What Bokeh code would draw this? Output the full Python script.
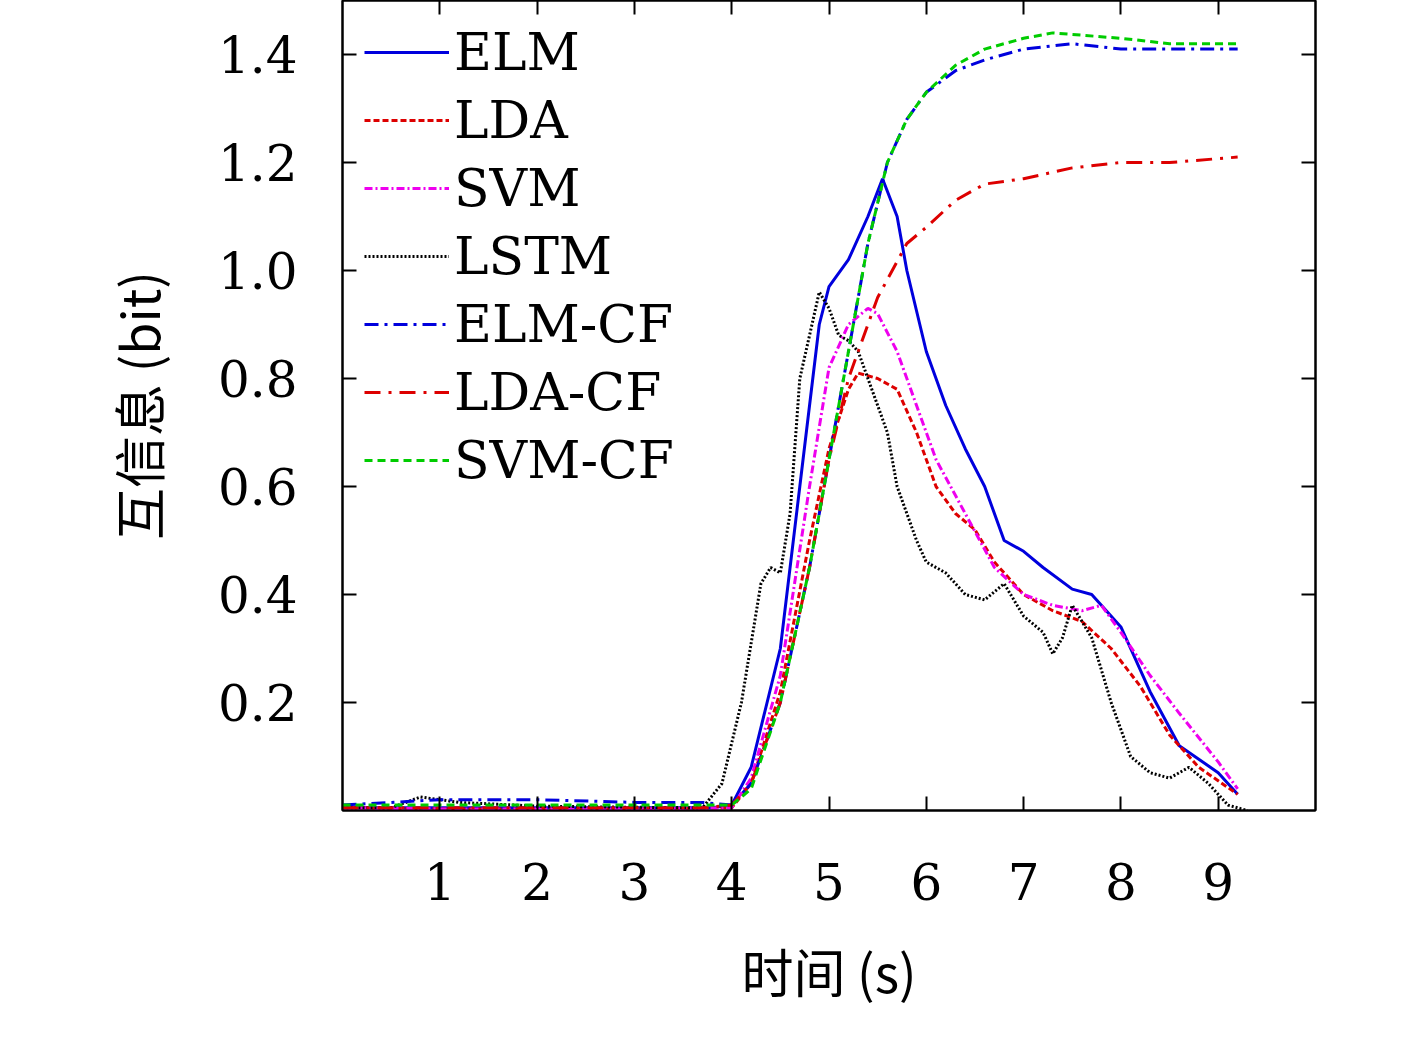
from bokeh.plotting import figure
from bokeh.models import LinearAxis, FixedTicker, Label, Legend, LegendItem, Range1d, PrintfTickFormatter
from bokeh.embed import file_html
from bokeh.resources import INLINE

elm_x = [0,1,2,3,3.8,4.0,4.2,4.5,4.7,4.9,5.0,5.2,5.4,5.55,5.7,5.8,6.0,6.2,6.4,6.6,6.8,7.0,7.2,7.5,7.7,8.0,8.3,8.6,9.0,9.2]
elm_y = [0.005,0.005,0.005,0.005,0.005,0.01,0.08,0.3,0.6,0.9,0.97,1.02,1.1,1.17,1.1,1.0,0.85,0.75,0.67,0.6,0.5,0.48,0.45,0.41,0.4,0.34,0.22,0.12,0.07,0.03]
lda_x = [0,1,2,3,4.0,4.2,4.5,4.8,5.0,5.2,5.3,5.5,5.7,5.9,6.1,6.3,6.5,6.7,7.0,7.3,7.6,7.9,8.2,8.5,8.8,9.2]
lda_y = [0.005,0.003,0.003,0.003,0.005,0.05,0.22,0.5,0.67,0.78,0.81,0.8,0.78,0.7,0.6,0.55,0.52,0.46,0.4,0.37,0.35,0.3,0.23,0.14,0.08,0.03]
svm_x = [0,1,2,3,4.0,4.2,4.5,4.8,5.0,5.2,5.4,5.5,5.7,5.9,6.1,6.4,6.7,7.0,7.3,7.6,7.8,8.0,8.3,8.6,9.0,9.2]
svm_y = [0.005,0.003,0.003,0.003,0.005,0.06,0.25,0.6,0.82,0.9,0.93,0.92,0.85,0.75,0.65,0.55,0.45,0.4,0.38,0.37,0.38,0.33,0.25,0.18,0.09,0.04]
lstm_x = [0,0.5,0.8,1.2,2,3,3.7,3.9,4.1,4.3,4.4,4.5,4.6,4.7,4.9,5.0,5.1,5.2,5.3,5.4,5.6,5.7,5.9,6.0,6.2,6.4,6.6,6.8,7.0,7.2,7.3,7.4,7.5,7.7,7.9,8.1,8.3,8.5,8.7,8.9,9.1,9.3]
lstm_y = [0.005,0.005,0.025,0.015,0.008,0.006,0.005,0.05,0.2,0.42,0.45,0.44,0.55,0.8,0.96,0.93,0.88,0.87,0.85,0.8,0.7,0.6,0.5,0.46,0.44,0.4,0.39,0.42,0.36,0.33,0.29,0.32,0.38,0.32,0.2,0.1,0.07,0.06,0.08,0.05,0.01,0.0]
elmcf_x = [0,1,2,3,3.7,4.0,4.2,4.5,4.8,5.0,5.2,5.4,5.6,5.8,6.0,6.3,6.6,7.0,7.5,8.0,8.5,9.2]
elmcf_y = [0.01,0.02,0.02,0.015,0.015,0.01,0.05,0.2,0.45,0.65,0.85,1.05,1.2,1.28,1.33,1.37,1.39,1.41,1.42,1.41,1.41,1.41]
ldacf_x = [0,1,2,3,3.7,4.0,4.2,4.5,4.8,5.0,5.2,5.3,5.5,5.8,6.0,6.3,6.6,7.0,7.5,8.0,8.5,9.2]
ldacf_y = [0.005,0.005,0.005,0.005,0.005,0.01,0.05,0.2,0.45,0.65,0.8,0.85,0.95,1.05,1.08,1.13,1.16,1.17,1.19,1.2,1.2,1.21]
svmcf_x = [0,1,2,3,3.7,4.0,4.2,4.5,4.8,5.0,5.2,5.4,5.6,5.8,6.0,6.3,6.6,7.0,7.3,8.0,8.5,9.2]
svmcf_y = [0.01,0.01,0.01,0.01,0.01,0.01,0.04,0.2,0.45,0.65,0.85,1.05,1.2,1.28,1.33,1.38,1.41,1.43,1.44,1.43,1.42,1.42]
x_ticks = [1,2,3,4,5,6,7,8,9]
y_ticks = [0.2,0.4,0.6,0.8,1.0,1.2,1.4]

FONT = "DejaVu Serif"
p = figure(width=1408, height=1028, output_backend="svg", toolbar_location=None,
           x_range=Range1d(0, 10), y_range=Range1d(0, 1.5),
           min_border_left=342, min_border_top=0, min_border_right=93, min_border_bottom=218,
           x_axis_label="时间 (s)", y_axis_label="互信息 (bit)")
p.grid.visible = False
p.outline_line_color = "black"
p.outline_line_width = 2

for ax, ticks in ((p.xaxis[0], x_ticks), (p.yaxis[0], y_ticks)):
    ax.ticker = FixedTicker(ticks=ticks)
    ax.major_tick_in = 14
    ax.major_tick_out = 0
    ax.minor_tick_line_color = None
    ax.axis_line_width = 2
    ax.major_tick_line_width = 2
    ax.major_label_text_font = FONT
    ax.major_label_text_font_size = "50px"
    ax.major_label_text_color = "black"
    ax.axis_label_text_font = "Noto Sans CJK SC"
    ax.axis_label_text_font_size = "52px"
    ax.axis_label_text_color = "black"
    ax.axis_label_text_font_style = "normal"
p.yaxis[0].formatter = PrintfTickFormatter(format="%.1f")
p.xaxis[0].major_label_standoff = 52
p.xaxis[0].axis_label_standoff = 30
p.yaxis[0].major_label_standoff = 45
p.yaxis[0].axis_label_standoff = 40

for loc, ticks in (("right", y_ticks), ("above", x_ticks)):
    a = LinearAxis(ticker=FixedTicker(ticks=ticks), major_label_text_font_size="0px",
                   major_tick_in=14, major_tick_out=0, minor_tick_line_color=None,
                   axis_line_width=2, major_tick_line_width=2)
    p.add_layout(a, loc)

p.add_layout(Label(x=-62, y=-77, x_units="screen", y_units="screen", text="0",
                   text_font=FONT, text_font_size="50px", text_align="center",
                   text_baseline="middle", text_color="black"))

W = 3
series = [
    ("ELM", elm_x, elm_y, "#0000dd", "solid"),
    ("LDA", lda_x, lda_y, "#dd0000", "6 3"),
    ("SVM", svm_x, svm_y, "#ee00ee", "8 3 2 3"),
    ("LSTM", lstm_x, lstm_y, "black", "2 2"),
    ("ELM-CF", elmcf_x, elmcf_y, "#0000dd", "14 6 3 6"),
    ("LDA-CF", ldacf_x, ldacf_y, "#dd0000", "16 8 3 8"),
    ("SVM-CF", svmcf_x, svmcf_y, "#00cc00", "8 5"),
]
items = []
for name, xs, ys, c, d in series:
    r = p.line(xs, ys, line_color=c, line_width=W, line_dash=d)
    items.append(LegendItem(label=name, renderers=[r]))

leg = Legend(items=items, location="top_left", border_line_color=None,
             background_fill_alpha=0, label_text_font=FONT, label_text_font_size="52px",
             label_text_color="black",
             glyph_width=85, glyph_height=60, label_height=60, spacing=8,
             margin=22, padding=10)
p.add_layout(leg)

open("out.html", "w").write(file_html(p, INLINE))
